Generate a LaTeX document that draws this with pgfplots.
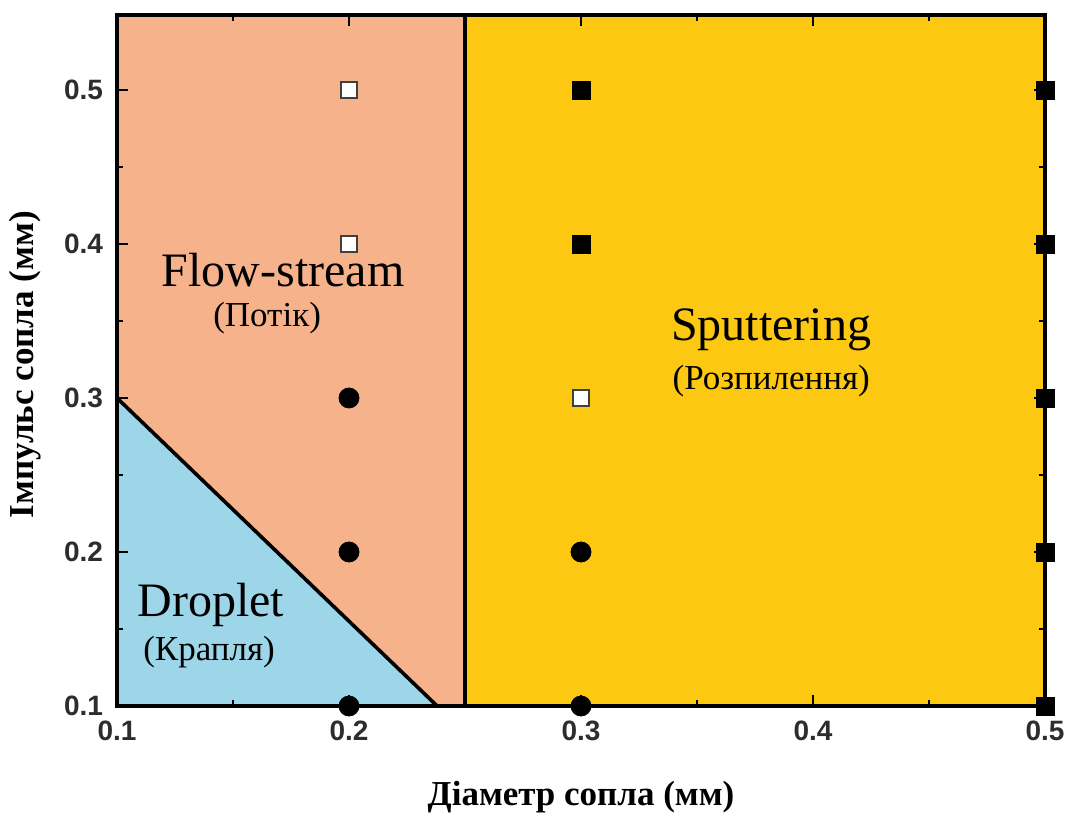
\documentclass[border=0pt]{standalone}
\usepackage{pgfplots}
\pgfplotsset{compat=1.18}
\usepackage{fontspec}
\setmainfont{Liberation Serif}
\setsansfont{Liberation Sans}
\definecolor{salmon}{RGB}{246,178,138}
\definecolor{dropblue}{RGB}{157,214,232}
\definecolor{sputyellow}{RGB}{252,200,18}
\definecolor{ticklab}{RGB}{45,45,45}
\begin{document}
\begin{tikzpicture}
\begin{axis}[
  set layers,
  scale only axis,
  width=464pt, height=345.5pt,
  at={(0,0)}, anchor=south west,
  xmin=0.1, xmax=0.5, ymin=0.1, ymax=0.5487,
  xtick={0.1,0.2,0.3,0.4,0.5},
  ytick={0.1,0.2,0.3,0.4,0.5},
  minor tick num=1,
  tick align=inside,
  major tick length=5.5pt,
  minor tick length=3pt,
  axis line style={line width=2pt},
  every tick/.style={black, line width=1.4pt},
  clip=false,
  /pgf/number format/assume math mode=true,
  /pgf/number format/fixed,
  /pgf/number format/precision=1,
  /pgf/number format/fixed zerofill,
  tick label style={font=\sffamily\bfseries\fontsize{14}{16}\selectfont, text=ticklab},
  xticklabel style={yshift=-4pt},
  yticklabel style={xshift=-3.5pt},
  xlabel={Діаметр сопла (мм)},
  ylabel={Імпульс сопла (мм)},
  label style={font=\bfseries\fontsize{17.5}{19}\selectfont},
  xlabel style={at={(axis description cs:0.5,-0.1317)}, anchor=center},
  ylabel style={at={(axis description cs:-0.0991,0.494)}, anchor=center, rotate=0},
]
% regions
\addplot[fill=salmon, draw=none, on layer=axis background] coordinates {(0.1,0.1) (0.25,0.1) (0.25,0.5487) (0.1,0.5487) (0.1,0.1)};
\addplot[fill=sputyellow, draw=none, on layer=axis background] coordinates {(0.25,0.1) (0.5,0.1) (0.5,0.5487) (0.25,0.5487) (0.25,0.1)};
\addplot[fill=dropblue, draw=none, on layer=axis background] coordinates {(0.1,0.1) (0.238,0.1) (0.1,0.3) (0.1,0.1)};
% boundaries
\addplot[black, line width=1.8pt, no marks] coordinates {(0.1,0.3) (0.238,0.1)};
\addplot[black, line width=1.8pt, no marks] coordinates {(0.25,0.1) (0.25,0.5487)};
% open squares
\addplot[only marks, mark=square*, mark size=4pt, mark options={fill=white, draw=black!75, line width=1pt}] coordinates {(0.2,0.5) (0.2,0.4) (0.3,0.3)};
% filled squares
\addplot[only marks, mark=square*, mark size=4.5pt, mark options={fill=black, draw=black}] coordinates {(0.3,0.5) (0.3,0.4) (0.5,0.1) (0.5,0.2) (0.5,0.3) (0.5,0.4) (0.5,0.5)};
% circles
\addplot[only marks, mark=*, mark size=5pt, mark options={fill=black, draw=black}] coordinates {(0.2,0.3) (0.2,0.2) (0.2,0.1) (0.3,0.2) (0.3,0.1)};
% region labels
\node[font=\fontsize{24}{26}\selectfont] at (axis cs:0.1716,0.383) {Flow-stream};
\node[font=\fontsize{17.5}{19}\selectfont] at (axis cs:0.1647,0.352) {(Потік)};
\node[font=\fontsize{24}{26}\selectfont] at (axis cs:0.3819,0.344) {Sputtering};
\node[font=\fontsize{17.5}{19}\selectfont] at (axis cs:0.382,0.311) {(Розпилення)};
\node[font=\fontsize{24}{26}\selectfont] at (axis cs:0.1405,0.1656) {Droplet};
\node[font=\fontsize{17.5}{19}\selectfont] at (axis cs:0.1397,0.135) {(Крапля)};
\end{axis}
\pgfresetboundingbox
\path[use as bounding box] (-58.5pt,-54pt) rectangle (479pt,353pt);
\end{tikzpicture}
\end{document}
